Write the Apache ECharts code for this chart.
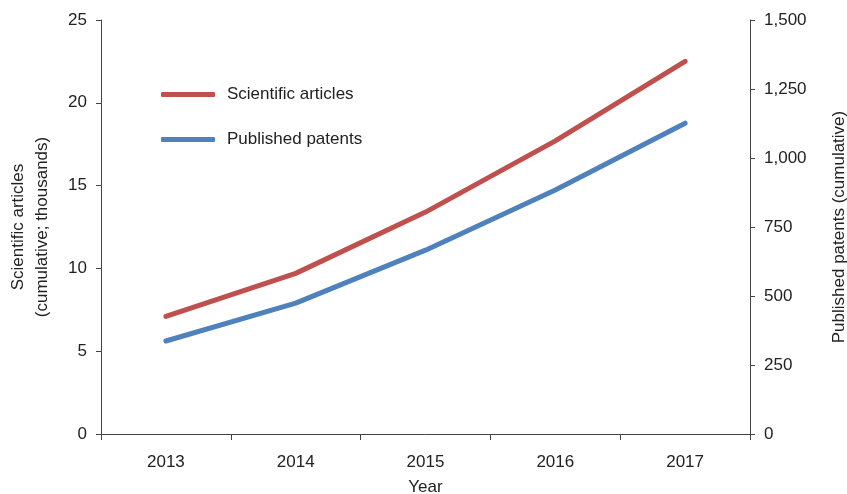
<!DOCTYPE html>
<html><head><meta charset="utf-8">
<script src="https://cdn.jsdelivr.net/npm/echarts@6/dist/echarts.min.js"></script>
<style>html,body{margin:0;padding:0;background:#fff}#c{width:847px;height:494px}</style>
</head><body><div id="c"></div>
<script>
var years = ['2013', '2014', '2015', '2016', '2017'];
var articles = [7.1, 9.7, 13.4, 17.7, 22.5];
var patents = [337, 474, 666, 884, 1126];
var FONT = 'Liberation Sans, Arial, Helvetica, sans-serif';
var axisCol = '#444';
var txt = '#222';
var FS = 17;
var chart = echarts.init(document.getElementById('c'));
chart.setOption({
  animation: false,
  textStyle: {fontFamily: FONT},
  grid: {left: 101, right: 97, top: 20, bottom: 60, containLabel: false, outerBoundsMode: 'none'},
  legend: {
    orient: 'vertical', left: 161, top: 86, padding: 0, itemWidth: 54, itemHeight: 5, itemGap: 28,
    icon: 'roundRect',
    textStyle: {fontSize: FS, color: txt, fontFamily: FONT, padding: [0, 0, 0, 7]},
    data: ['Scientific articles', 'Published patents']
  },
  xAxis: {
    type: 'category', data: years, boundaryGap: true,
    name: 'Year', nameLocation: 'middle', nameGap: 45,
    nameTextStyle: {fontSize: FS, color: txt},
    axisLine: {lineStyle: {color: axisCol, width: 1}},
    axisTick: {show: true, length: 6, alignWithLabel: false, lineStyle: {color: axisCol}},
    axisLabel: {fontSize: FS, color: txt, margin: 20}
  },
  yAxis: [{
    type: 'value', min: 0, max: 25, interval: 5, position: 'left',
    name: 'Scientific articles\n(cumulative; thousands)', nameLocation: 'middle', nameGap: 47, nameRotate: 90,
    nameTextStyle: {fontSize: FS, color: txt, lineHeight: 24},
    axisLine: {show: true, lineStyle: {color: axisCol}},
    axisTick: {show: true, length: 5, lineStyle: {color: axisCol}},
    splitLine: {show: false},
    axisLabel: {fontSize: FS, color: txt, margin: 14}
  }, {
    type: 'value', min: 0, max: 1500, interval: 250, position: 'right',
    name: 'Published patents (cumulative)', nameLocation: 'middle', nameGap: 81, nameRotate: 90,
    nameTextStyle: {fontSize: FS, color: txt},
    axisLine: {show: true, lineStyle: {color: axisCol}},
    axisTick: {show: true, length: 5, lineStyle: {color: axisCol}},
    splitLine: {show: false},
    axisLabel: {fontSize: FS, color: txt, margin: 14,
      formatter: function (v) { return v.toLocaleString('en-US'); }}
  }],
  series: [{
    name: 'Scientific articles', type: 'line', yAxisIndex: 0, data: articles,
    symbol: 'none', lineStyle: {color: '#C0504D', width: 5, cap: 'round'}, itemStyle: {color: '#C0504D'}
  }, {
    name: 'Published patents', type: 'line', yAxisIndex: 1, data: patents,
    symbol: 'none', lineStyle: {color: '#4F81BD', width: 5, cap: 'round'}, itemStyle: {color: '#4F81BD'}
  }]
});
</script></body></html>
